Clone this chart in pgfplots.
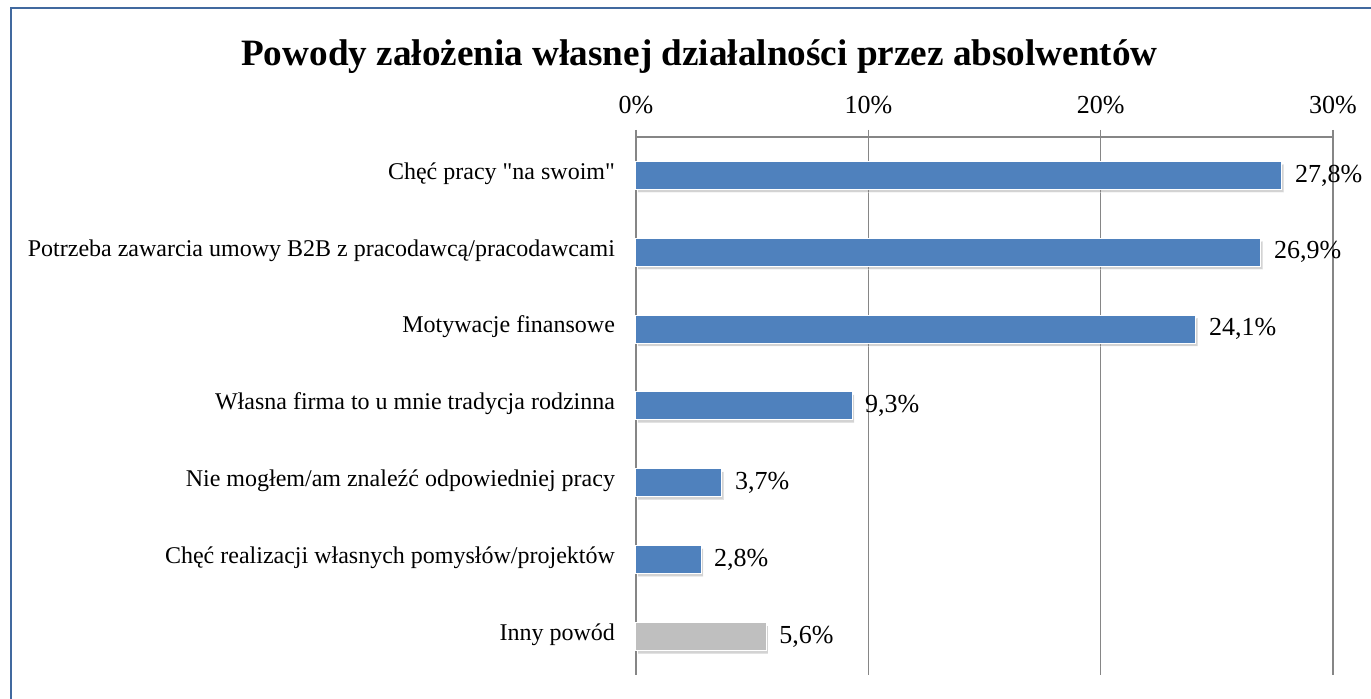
\documentclass[border=0pt]{standalone}
\usepackage{pgfplots}
\pgfplotsset{compat=1.18}
\usepackage{fontspec}
\setmainfont{Liberation Serif}[Ligatures=TeXOff]
\usetikzlibrary{shadows}
\definecolor{barblue}{HTML}{4F81BD}
\definecolor{bargray}{HTML}{BFBFBF}
\definecolor{axgray}{HTML}{868686}
\definecolor{frameblue}{HTML}{41699F}
\begin{document}
\begin{tikzpicture}
\path[use as bounding box] (0,0) rectangle (685.5pt,-349.5pt);
\draw[frameblue, line width=1pt] (5.5pt,-350pt) -- (5.5pt,-4.25pt) -- (686pt,-4.25pt);
\node[anchor=base, font=\fontsize{18.6}{22}\selectfont\bfseries] at (349.75pt,-33pt) {Powody założenia własnej działalności przez absolwentów};
\begin{axis}[
  at={(318pt,-68.5pt)}, anchor=north west,
  width=348.5pt, height=269pt, scale only axis,
  xmin=0, xmax=30, ymin=-0.5, ymax=6.5,
  axis x line*=top, axis y line*=left,
  axis line style={axgray, line width=0.75pt},
  xtick={0,10,20,30},
  xticklabels={0\%,10\%,20\%,30\%},
  xmajorgrids, grid style={axgray, line width=0.75pt},
  tick align=outside,
  major tick length=3.5pt,
  tick style={axgray, line width=0.75pt},
  ytick={0,...,6},
  yticklabels={Inny powód, Chęć realizacji własnych pomysłów/projektów, Nie mogłem/am znaleźć odpowiedniej pracy, Własna firma to u mnie tradycja rodzinna, Motywacje finansowe, Potrzeba zawarcia umowy B2B z pracodawcą/pracodawcami, Chęć pracy "na swoim"},
  ytick style={draw=none},
  extra y ticks={-0.5,0.5,1.5,2.5,3.5,4.5,5.5,6.5},
  extra y tick labels={},
  extra y tick style={ytick style={axgray, line width=0.75pt}, major tick length=4pt, grid=none},
  xticklabel style={font=\fontsize{13}{15}\selectfont, yshift=4.5pt},
  yticklabel style={font=\fontsize{12}{14}\selectfont, xshift=-3.5pt, yshift=1pt},
  xbar, bar width=14pt, bar shift=0pt,
  clip=false,
  point meta=x,
  nodes near coords={\pgfmathprintnumber[use comma,fixed,fixed zerofill,precision=1]{\pgfplotspointmeta}\%},
  nodes near coords align=horizontal,
  every node near coord/.append style={font=\fontsize{13}{15}\selectfont, xshift=3pt, black},
  /pgf/number format/assume math mode=true,
]
\addplot[fill=barblue, draw=white, line width=0.5pt, drop shadow={opacity=0.35, shadow xshift=1pt, shadow yshift=-1.5pt}] coordinates {(27.8,6) (26.9,5) (24.1,4) (9.3,3) (3.7,2) (2.8,1)};
\addplot[fill=bargray, draw=white, line width=0.5pt, drop shadow={opacity=0.35, shadow xshift=1pt, shadow yshift=-1.5pt}] coordinates {(5.6,0)};
\end{axis}
\end{tikzpicture}
\end{document}
